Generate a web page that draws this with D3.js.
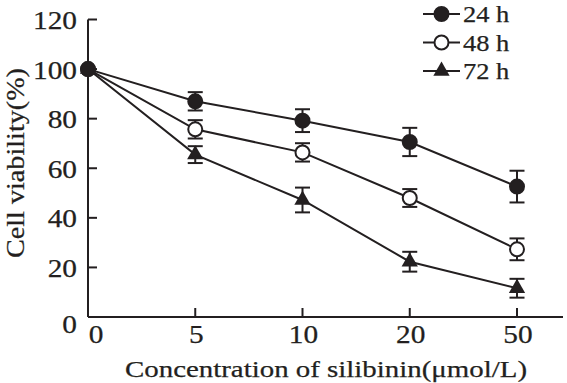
<!DOCTYPE html>
<html><head><meta charset="utf-8">
<script src="https://cdn.jsdelivr.net/npm/d3@7"></script>
<style>
body{margin:0;background:#fff;}
svg text{font-family:'Liberation Serif','Times New Roman',Tinos,Times,serif;fill:#231f20;stroke:#231f20;stroke-width:0.25px;}
</style></head>
<body><svg id="c" width="567" height="383"></svg>
<script>
const concentrations = ["0","5","10","20","50"];
const seriesNames = ["24 h","48 h","72 h"];
const v24 = [100, 87.0, 79.2, 70.6, 52.6];
const e24 = [0, 3.7, 4.6, 5.7, 6.4];
const v48 = [100, 75.7, 66.4, 48.0, 27.3];
const e48 = [0, 3.7, 3.7, 3.6, 4.4];
const v72 = [100, 65.5, 47.2, 22.3, 11.6];
const e72 = [0, 3.4, 5.0, 4.0, 3.8];
const yTicks = [0,20,40,60,80,100,120];
const xTitle = "Concentration of silibinin(μmol/L)";
const yTitle = "Cell viability(%)";

const ink = "#231f20";
const svg = d3.select("#c");
const x = d3.scalePoint().domain(concentrations).range([88, 517]);
const y = d3.scaleLinear().domain([0,120]).range([317, 19.5]);
const W = 1.15; // horizontal widening of glyphs

function widen(sel, k){
  sel.each(function(){
    const w = this.getComputedTextLength();
    d3.select(this).attr("textLength", w*k).attr("lengthAdjust","spacingAndGlyphs");
  });
}

// axes lines
svg.append("line").attr("x1",88).attr("x2",563).attr("y1",y(0)).attr("y2",y(0))
  .attr("stroke",ink).attr("stroke-width",2);
svg.append("line").attr("x1",88).attr("x2",88).attr("y1",y(0)).attr("y2",y(120))
  .attr("stroke",ink).attr("stroke-width",2);

// y ticks
svg.selectAll(".yt").data(yTicks.filter(d=>d>0)).enter().append("line")
  .attr("x1",88).attr("x2",97).attr("y1",d=>y(d)).attr("y2",d=>y(d))
  .attr("stroke",ink).attr("stroke-width",2);
const ylab = svg.selectAll(".yl").data(yTicks).enter().append("text")
  .attr("x",77).attr("y",d=>y(d)+ (d===0?16:9.5))
  .attr("text-anchor","end").attr("font-size",25.5).text(d=>d);
widen(ylab, W);

// x ticks
svg.selectAll(".xt").data(concentrations.slice(1)).enter().append("line")
  .attr("x1",d=>x(d)).attr("x2",d=>x(d)).attr("y1",y(0)).attr("y2",y(0)-9)
  .attr("stroke",ink).attr("stroke-width",2);
const xlab = svg.selectAll(".xl").data(concentrations).enter().append("text")
  .attr("x",(d,i)=>x(d)+(i===0?8:1)).attr("y",343)
  .attr("text-anchor","middle").attr("font-size",25.5).text(d=>d);
widen(xlab, W);

// titles
svg.append("text").attr("x",326).attr("y",377).attr("text-anchor","middle")
  .attr("font-size",24).attr("textLength",402).attr("lengthAdjust","spacingAndGlyphs").text(xTitle);
svg.append("text").attr("transform","translate(24,163) rotate(-90)").attr("text-anchor","middle")
  .attr("font-size",26).attr("textLength",190).attr("lengthAdjust","spacingAndGlyphs").text(yTitle);

// series
const series = [
  {name:seriesNames[2], v:v72, e:e72, type:"tri"},
  {name:seriesNames[1], v:v48, e:e48, type:"open"},
  {name:seriesNames[0], v:v24, e:e24, type:"fill"}
];
const line = d3.line().x((d,i)=>x(concentrations[i])).y(d=>y(d));
const tri = d3.symbol().type(d3.symbolTriangle).size(115);

function marker(g, type){
  if(type==="tri") g.append("path").attr("d",tri()).attr("fill",ink);
  else g.append("circle").attr("r",7).attr("fill",type==="fill"?ink:"#fff")
    .attr("stroke",ink).attr("stroke-width",2);
}

series.forEach(s=>{
  svg.append("path").attr("d",line(s.v)).attr("fill","none").attr("stroke",ink).attr("stroke-width",2);
});
series.forEach(s=>{
  s.v.forEach((v,i)=>{
    if(!s.e[i]) return;
    const cx = x(concentrations[i]);
    const g = svg.append("g").attr("stroke",ink).attr("stroke-width",2);
    g.append("line").attr("x1",cx).attr("x2",cx).attr("y1",y(v+s.e[i])).attr("y2",y(v-s.e[i]));
    g.append("line").attr("x1",cx-7.5).attr("x2",cx+7.5).attr("y1",y(v+s.e[i])).attr("y2",y(v+s.e[i]));
    g.append("line").attr("x1",cx-7.5).attr("x2",cx+7.5).attr("y1",y(v-s.e[i])).attr("y2",y(v-s.e[i]));
  });
});
series.forEach(s=>{
  s.v.forEach((v,i)=>{
    const g = svg.append("g").attr("transform",`translate(${x(concentrations[i])},${y(v)})`);
    marker(g, s.type);
  });
});

// legend
const leg = [
  {name:seriesNames[0], type:"fill"},
  {name:seriesNames[1], type:"open"},
  {name:seriesNames[2], type:"tri"}
];
leg.forEach((l,i)=>{
  const cy = 14 + i*28.5;
  svg.append("line").attr("x1",423).attr("x2",460).attr("y1",cy).attr("y2",cy)
    .attr("stroke",ink).attr("stroke-width",2);
  const g = svg.append("g").attr("transform",`translate(441.5,${cy})`);
  marker(g, l.type);
  const t = svg.append("text").attr("x",463).attr("y",cy+8).attr("font-size",23).text(l.name);
  widen(t, W);
});
</script></body></html>
